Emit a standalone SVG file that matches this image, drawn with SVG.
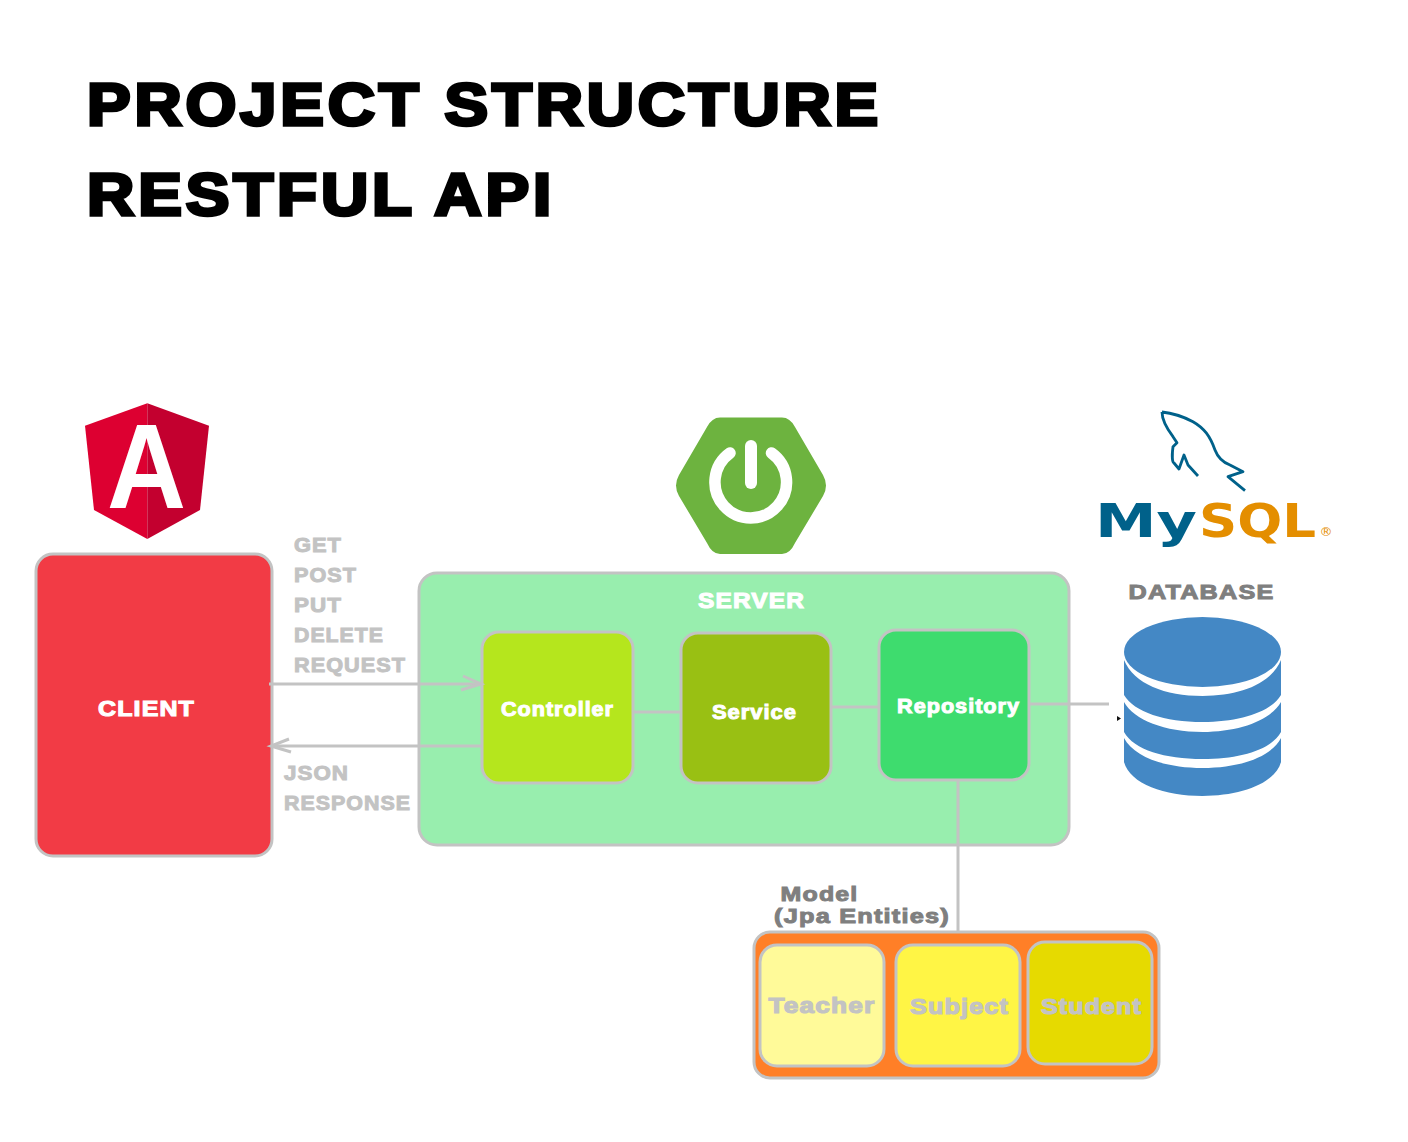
<svg xmlns="http://www.w3.org/2000/svg" width="1408" height="1142" viewBox="0 0 1408 1142">
<style>
text{font-family:"Liberation Sans",Arial,sans-serif;font-weight:700}
.box{stroke:#c3c3c3;stroke-width:3}
.ln{stroke:#c3c3c3;stroke-width:3;fill:none}
.t{font-size:60px;fill:#000;stroke:#000;stroke-width:3.400px;letter-spacing:3.500px}
.w{fill:#fff;stroke:#fff;stroke-width:1.100px;font-size:22px;letter-spacing:1px}
.c{fill:#fff;stroke:#fff;stroke-width:1px;font-size:20px;letter-spacing:.9px}
.g{fill:#c3c3c3;stroke:#c3c3c3;stroke-width:1px;font-size:21px;letter-spacing:1px}
.d{fill:#7f7f7f;stroke:#7f7f7f;stroke-width:1px;font-size:21px;letter-spacing:1px}
.e{fill:#c3c3c3;stroke:#c3c3c3;stroke-width:1.200px;font-size:22px;letter-spacing:1px}
.logo{font-family:"DejaVu Sans",sans-serif;font-size:46.600px}
.db{fill:#4488c5}
</style>
<rect width="1408" height="1142" fill="#fff"/>
<g id="title">
<text class="t" x="87" y="125" textLength="795" lengthAdjust="spacingAndGlyphs">PROJECT STRUCTURE</text>
<text class="t" x="87" y="214.500" textLength="468" lengthAdjust="spacingAndGlyphs">RESTFUL API</text>
</g>
<g id="angular-logo">
<polygon points="147.300,403.300 85,425.700 94,510 147.300,539" fill="#dd0031"/>
<polygon points="147.300,403.300 209,425.700 200,510 147.300,539" fill="#c3002f"/>
<text x="107" y="507.500" font-size="121" fill="#fff" textLength="79" lengthAdjust="spacingAndGlyphs">A</text>
</g>
<g id="spring-logo">
<path d="M720,417.500H782Q790,417.500 795,427L823,475Q829,485.500 823,496L795,543Q790,554 782,554H720Q712,554 707,543L679,496Q673,485.500 679,475L707,427Q712,417.500 720,417.500Z" fill="#6db33f"/>
<path d="M730,453A35.800,35.800 0 1 0 771.500,453" fill="none" stroke="#fff" stroke-width="11.500" stroke-linecap="round"/>
<line x1="751" y1="446" x2="751" y2="483" stroke="#fff" stroke-width="12" stroke-linecap="round"/>
</g>
<g id="mysql-logo">
<path d="M1162,412C1172,413 1184,417 1193,421.700C1204,428 1210,436 1215,450C1218,458 1222,462 1230,465L1243,471.700L1228,476.700L1245,490.700M1162,412C1162,420 1168,430 1173,436.700L1177,442.700L1173,446.700C1172,454 1172,462 1174,463L1179,469L1184,455L1188,465L1198,476" fill="none" stroke="#00618a" stroke-width="2.800" stroke-linejoin="round"/>
<text class="logo" x="1095" y="537" fill="#00618a" textLength="102" lengthAdjust="spacingAndGlyphs">My</text>
<text class="logo" x="1199" y="537" fill="#e48e00" textLength="117" lengthAdjust="spacingAndGlyphs">SQL</text>
<text x="1319.500" y="536" font-size="13" fill="#e48e00" style="font-family:'DejaVu Sans',sans-serif;font-weight:400">®</text>
</g>
<g id="client">
<rect class="box" x="36" y="554" width="236" height="302" rx="17" fill="#f23b45"/>
<text class="w" x="98" y="716" textLength="97" lengthAdjust="spacingAndGlyphs">CLIENT</text>
</g>
<g id="server">
<rect class="box" x="419" y="573" width="650" height="272" rx="18" fill="#98eeae"/>
<text class="w" x="698" y="608" textLength="107" lengthAdjust="spacingAndGlyphs">SERVER</text>
</g>
<g id="controller">
<rect class="box" x="482" y="632" width="151" height="151" rx="17" fill="#b5e61d"/>
<text class="c" x="501" y="716" textLength="113" lengthAdjust="spacingAndGlyphs">Controller</text>
</g>
<g id="service">
<rect class="box" x="681" y="633" width="150" height="150" rx="17" fill="#99c013"/>
<text class="c" x="712" y="719" textLength="85" lengthAdjust="spacingAndGlyphs">Service</text>
</g>
<g id="repository">
<rect class="box" x="879" y="630" width="150" height="150" rx="17" fill="#3edc6e"/>
<text class="c" x="897" y="713" textLength="123" lengthAdjust="spacingAndGlyphs">Repository</text>
</g>
<g id="connectors">
<line class="ln" x1="269" y1="684" x2="481" y2="684"/>
<path class="ln" d="M463,676L481,684L461,690"/>
<line class="ln" x1="271" y1="746" x2="482" y2="746"/>
<path class="ln" d="M289,739L271,746L291,752"/>
<line class="ln" x1="634" y1="712" x2="681" y2="712"/>
<line class="ln" x1="832" y1="707" x2="879" y2="707"/>
<line class="ln" x1="1030" y1="704" x2="1109" y2="704"/>
<line class="ln" x1="958" y1="781" x2="958" y2="931"/>
<polygon points="1117,716 1121,718.500 1117,721" fill="#111"/>
</g>
<g id="request-labels">
<text class="g" x="294" y="552" textLength="48" lengthAdjust="spacingAndGlyphs">GET</text>
<text class="g" x="294" y="582" textLength="63" lengthAdjust="spacingAndGlyphs">POST</text>
<text class="g" x="294" y="612" textLength="48" lengthAdjust="spacingAndGlyphs">PUT</text>
<text class="g" x="294" y="642" textLength="90" lengthAdjust="spacingAndGlyphs">DELETE</text>
<text class="g" x="294" y="672" textLength="112" lengthAdjust="spacingAndGlyphs">REQUEST</text>
</g>
<g id="response-labels">
<text class="g" x="284" y="780" textLength="65" lengthAdjust="spacingAndGlyphs">JSON</text>
<text class="g" x="284" y="810" textLength="127" lengthAdjust="spacingAndGlyphs">RESPONSE</text>
</g>
<g id="database">
<text class="d" x="1128.500" y="598.500" textLength="146" lengthAdjust="spacingAndGlyphs">DATABASE</text>
<ellipse class="db" cx="1202.500" cy="652" rx="78.500" ry="35"/>
<path class="db" d="M1124,660C1134,684 1165,696 1202.500,696C1240,696 1271,684 1281,660V695C1271,712 1240,722 1202.500,722C1165,722 1134,712 1124,695Z"/>
<path class="db" d="M1124,702C1134,720 1165,732 1202.500,732C1240,732 1271,720 1281,702V732C1271,750 1240,759 1202.500,759C1165,759 1134,750 1124,732Z"/>
<path class="db" d="M1124,738C1134,757 1165,768 1202.500,768C1240,768 1271,757 1281,738V762C1275,784 1240,796 1202.500,796C1165,796 1130,784 1124,762Z"/>
</g>
<g id="model">
<text class="d" x="780.500" y="901" textLength="78" lengthAdjust="spacingAndGlyphs">Model</text>
<text class="d" x="774" y="922.500" textLength="176" lengthAdjust="spacingAndGlyphs">(Jpa Entities)</text>
<rect class="box" x="754" y="932" width="405" height="146" rx="16" fill="#ff7f27"/>
</g>
<g id="teacher">
<rect class="box" x="760" y="945" width="124" height="121" rx="17" fill="#fffa99"/>
<text class="e" x="768.500" y="1012.500" textLength="107" lengthAdjust="spacingAndGlyphs">Teacher</text>
</g>
<g id="subject">
<rect class="box" x="896" y="945" width="124" height="121" rx="17" fill="#fff545"/>
<text class="e" x="910" y="1013.500" textLength="99" lengthAdjust="spacingAndGlyphs">Subject</text>
</g>
<g id="student">
<rect class="box" x="1028" y="942" width="124" height="122" rx="17" fill="#e6da00"/>
<text class="e" x="1041" y="1013.500" textLength="101" lengthAdjust="spacingAndGlyphs">Student</text>
</g>
</svg>
